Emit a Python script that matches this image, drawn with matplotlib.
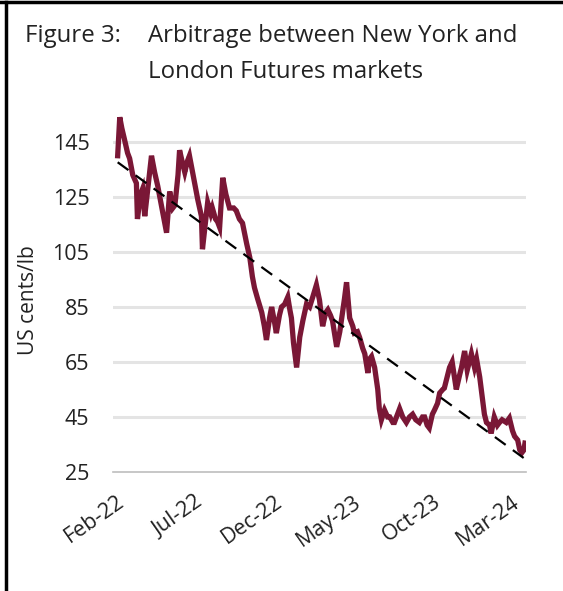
import numpy as np
import pandas as pd
import matplotlib
matplotlib.use("Agg")
import matplotlib.pyplot as plt
import matplotlib.dates as mdates
from matplotlib.lines import Line2D

# Arbitrage NY vs London (US cents/lb)
dates = [
    "2022-02-03", "2022-02-07", "2022-02-11", "2022-02-16", "2022-02-22", "2022-02-26",
    "2022-03-04", "2022-03-11", "2022-03-13", "2022-03-19", "2022-03-23", "2022-03-27",
    "2022-04-02", "2022-04-09", "2022-04-15", "2022-04-21", "2022-04-24", "2022-05-02",
    "2022-05-08", "2022-05-14", "2022-05-20", "2022-05-24", "2022-05-30", "2022-06-02",
    "2022-06-08", "2022-06-12", "2022-06-17", "2022-06-21", "2022-06-27", "2022-07-01",
    "2022-07-07", "2022-07-14", "2022-07-16", "2022-07-22", "2022-07-26", "2022-08-01",
    "2022-08-04", "2022-08-10", "2022-08-14", "2022-08-18", "2022-08-24", "2022-08-30",
    "2022-09-06", "2022-09-14", "2022-09-19", "2022-09-25", "2022-10-01", "2022-10-09",
    "2022-10-15", "2022-10-20", "2022-10-24", "2022-10-30", "2022-11-07", "2022-11-12",
    "2022-11-16", "2022-11-22", "2022-11-26", "2022-12-02", "2022-12-05", "2022-12-11",
    "2022-12-15", "2022-12-21", "2022-12-27", "2022-12-31", "2023-01-03", "2023-01-07",
    "2023-01-13", "2023-01-19", "2023-01-25", "2023-02-01", "2023-02-07", "2023-02-13",
    "2023-02-20", "2023-02-26", "2023-03-04", "2023-03-10", "2023-03-14", "2023-03-19",
    "2023-03-23", "2023-03-31", "2023-04-06", "2023-04-09", "2023-04-15", "2023-04-19",
    "2023-04-25", "2023-05-01", "2023-05-04", "2023-05-10", "2023-05-14", "2023-05-20",
    "2023-05-24", "2023-05-30", "2023-06-02", "2023-06-06", "2023-06-12", "2023-06-18",
    "2023-06-21", "2023-06-25", "2023-07-01", "2023-07-07", "2023-07-11", "2023-07-17",
    "2023-07-20", "2023-07-26", "2023-07-30", "2023-08-05", "2023-08-12", "2023-08-18",
    "2023-08-24", "2023-08-30", "2023-09-06", "2023-09-12", "2023-09-16", "2023-09-21",
    "2023-09-25", "2023-10-01", "2023-10-05", "2023-10-11", "2023-10-15", "2023-10-21",
    "2023-10-24", "2023-10-30", "2023-11-03", "2023-11-08", "2023-11-12", "2023-11-16",
    "2023-11-22", "2023-11-26", "2023-12-02", "2023-12-07", "2023-12-11", "2023-12-15",
    "2023-12-21", "2023-12-25", "2023-12-31", "2024-01-05", "2024-01-09", "2024-01-13",
    "2024-01-19", "2024-01-22", "2024-01-28", "2024-02-03", "2024-02-07", "2024-02-12",
    "2024-02-20", "2024-02-26", "2024-03-03", "2024-03-07", "2024-03-13", "2024-03-17",
    "2024-03-21", "2024-03-25", "2024-03-27",
]
arbitrage = [
    140, 154, 150, 146, 141, 139,
    133, 130, 117, 126, 128, 118,
    128, 140, 134, 129, 126, 118,
    112, 127, 121, 122, 133, 142,
    137, 134, 138, 140, 134, 130,
    124, 118, 106, 116, 123, 119,
    121, 117, 116, 114, 132, 126,
    121, 121, 120, 117, 115.5, 108,
    103, 96, 92, 88, 83, 78,
    73, 81, 85, 79, 75.5, 82,
    85, 86, 88.6, 84, 81, 72,
    63, 74, 80, 86, 85, 88.6,
    93, 87.5, 78, 83, 84, 82,
    80, 70.5, 76, 80, 88, 94,
    81, 78, 75.5, 76, 74, 70,
    68, 61, 66, 67, 63, 55,
    48, 44, 47.5, 45, 45, 43,
    43, 46, 48, 45, 43, 45,
    46, 44, 43, 45, 45, 42,
    41, 46, 47.5, 50, 53.7, 55,
    55.5, 60, 63, 65, 60, 55,
    60, 63, 69, 62, 65, 68,
    63, 66, 59.5, 52, 46, 43,
    42, 39, 45, 42, 43, 44,
    43, 44.6, 40, 38, 36.6, 33,
    32, 33, 35.5,
]

y_ticks = [25, 45, 65, 85, 105, 125, 145]
x_tick_dates = ["2022-02-01", "2022-07-01", "2022-12-01", "2023-05-01", "2023-10-01", "2024-03-01"]
x_tick_labels = ["Feb-22", "Jul-22", "Dec-22", "May-23", "Oct-23", "Mar-24"]

font = ["Open Sans", "DejaVu Sans"]
plt.rcParams["font.family"] = font

df = pd.DataFrame({"date": pd.to_datetime(dates), "value": arbitrage})

fig = plt.figure(figsize=(5.63, 5.91), dpi=100)
ax = fig.add_axes([0.2007, 0.2014, 0.7336, 0.6049])

ax.plot(df["date"], df["value"], color="#7a1736", lw=3.8, solid_joinstyle="miter", zorder=3)

# linear trend
xnum = mdates.date2num(df["date"])
k, b = np.polyfit(xnum, df["value"], 1)
ax.plot(df["date"], k * xnum + b, color="black", lw=1.6, ls=(0, (6, 4)), zorder=4)

ax.set_ylim(25, 155)
ax.set_xlim(pd.Timestamp("2022-01-25"), pd.Timestamp("2024-03-29"))
ax.set_yticks(y_ticks)
ax.set_yticklabels([str(t) for t in y_ticks], fontsize=15.5, color="#222222")
ax.set_xticks(pd.to_datetime(x_tick_dates))
ax.set_xticklabels(x_tick_labels, fontsize=15.5, rotation=35, ha="right",
                   rotation_mode="anchor", color="#222222")
ax.tick_params(axis="both", length=0)
ax.tick_params(axis="y", pad=17)
ax.tick_params(axis="x", pad=14)

for t in y_ticks[1:]:
    ax.axhline(t, color="#e4e4e4", lw=2.2, zorder=1)
for s in ["top", "right", "left"]:
    ax.spines[s].set_visible(False)
ax.spines["bottom"].set_color("#bdbdbd")
ax.spines["bottom"].set_linewidth(1.2)

ax.set_ylabel("US cents/lb", fontsize=15, color="#222222")
ax.yaxis.set_label_coords(-0.18, 0.48)

fig.text(25 / 563, 1 - 42 / 591, "Figure 3:", fontsize=17.3, color="#222222", va="baseline")
fig.text(148 / 563, 1 - 42 / 591, "Arbitrage between New York and", fontsize=17.3,
         color="#222222", va="baseline")
fig.text(148 / 563, 1 - 78 / 591, "London Futures markets", fontsize=17.3,
         color="#222222", va="baseline")

# black frame on top and left like the source
fig.add_artist(Line2D([0, 1], [1 - 2 / 591, 1 - 2 / 591], color="black", lw=2.5))
fig.add_artist(Line2D([6 / 563, 6 / 563], [0, 1 - 2 / 591], color="black", lw=2.5))

fig.savefig("out.png", dpi=100)
